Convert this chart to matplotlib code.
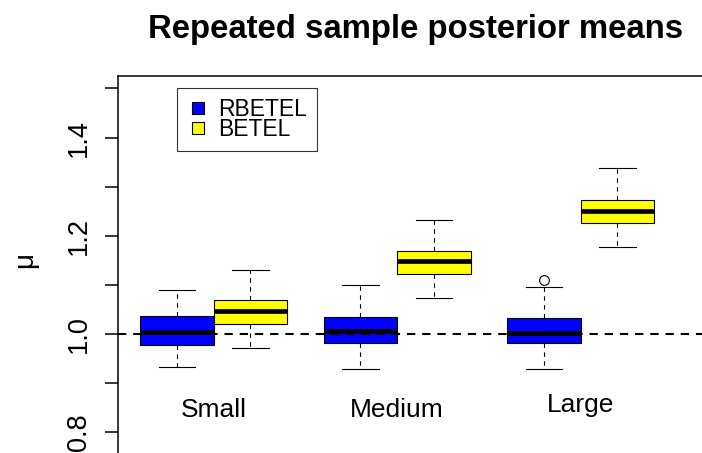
import numpy as np
import matplotlib
matplotlib.use("Agg")
import matplotlib.pyplot as plt
from matplotlib.lines import Line2D

plt.rcParams['font.family'] = ['Liberation Sans', 'DejaVu Sans']

# box statistics
groups = ["Small", "Medium", "Large"]
series = ["RBETEL", "BETEL"]
colors = ["#0000ff", "#ffff00"]

rbetel_low = [0.932, 0.928, 0.928]
rbetel_q1 = [0.977, 0.982, 0.982]
rbetel_med = [1.005, 1.006, 1.002]
rbetel_q3 = [1.037, 1.035, 1.032]
rbetel_high = [1.090, 1.100, 1.096]
rbetel_out = [[], [], [1.109]]

betel_low = [0.972, 1.074, 1.177]
betel_q1 = [1.021, 1.123, 1.227]
betel_med = [1.047, 1.148, 1.250]
betel_q3 = [1.069, 1.170, 1.273]
betel_high = [1.131, 1.233, 1.338]
betel_out = [[], [], []]

ref_line = 1.0
yticks = [0.8, 0.9, 1.0, 1.1, 1.2, 1.3, 1.4, 1.5]
ylabels = ["0.8", "", "1.0", "", "1.2", "", "1.4", ""]

fig = plt.figure(figsize=(7.02, 4.53), dpi=100)
# plot region runs off the right and bottom of the picture
ax = fig.add_axes([117.5/702, -28.3/453, 596/702, 405.6/453])

positions = [1, 2, 3.5, 4.5, 6, 7]
stats = []
for i in range(3):
    stats.append(dict(whislo=rbetel_low[i], q1=rbetel_q1[i], med=rbetel_med[i],
                      q3=rbetel_q3[i], whishi=rbetel_high[i], fliers=rbetel_out[i]))
    stats.append(dict(whislo=betel_low[i], q1=betel_q1[i], med=betel_med[i],
                      q3=betel_q3[i], whishi=betel_high[i], fliers=betel_out[i]))

bp = ax.bxp(stats, positions=positions, widths=1.0, capwidths=0.5,
            patch_artist=True,
            boxprops=dict(edgecolor='black', linewidth=0.8),
            medianprops=dict(color='black', linewidth=3.4, solid_capstyle='butt'),
            whiskerprops=dict(color='black', linewidth=0.8, linestyle=(0, (4, 4))),
            capprops=dict(color='black', linewidth=0.8),
            flierprops=dict(marker='o', markersize=7, markerfacecolor='none',
                            markeredgecolor='black', markeredgewidth=0.8))
for k, box in enumerate(bp['boxes']):
    box.set_facecolor(colors[k % 2])

ax.axhline(ref_line, color='black', linewidth=1.5, linestyle=(0, (4, 3.3)), zorder=5)

ax.text(1.5, 0.8316, groups[0], ha='center', va='baseline', fontsize=19)
ax.text(4.0, 0.8316, groups[1], ha='center', va='baseline', fontsize=19)
ax.text(6.5, 0.8405, groups[2], ha='center', va='baseline', fontsize=19)

handles = [Line2D([], [], linestyle='none', marker='s', markersize=8.6,
                  markerfacecolor=c, markeredgecolor='black', markeredgewidth=0.8)
           for c in colors]
leg = ax.legend(handles, series, loc='upper left', bbox_to_anchor=(1.0, 1.5),
                bbox_transform=ax.transData, borderaxespad=0, fontsize=16.5,
                frameon=True, fancybox=False, borderpad=0.4, handlelength=1.03,
                handletextpad=0.38, labelspacing=-0.1)
leg.get_frame().set_edgecolor('black')
leg.get_frame().set_linewidth(0.8)

ax.set_xlim(0.189, 8.31)
ax.set_ylim(0.7, 1.526)
ax.set_xticks([])
ax.set_yticks(yticks)
ax.set_yticklabels(ylabels, fontsize=19.5, rotation=90, va='center', ha='right')
ax.tick_params(axis='y', length=9.4, width=1.1, pad=9)
for s in ax.spines.values():
    s.set_linewidth(1.1)

ax.set_ylabel('μ', fontsize=20)
ax.yaxis.set_label_coords(-0.134, 0.5456)

ax.set_title('Repeated sample posterior means', fontsize=23.7, fontweight='bold', pad=27)

fig.savefig('out.png', dpi=100)
